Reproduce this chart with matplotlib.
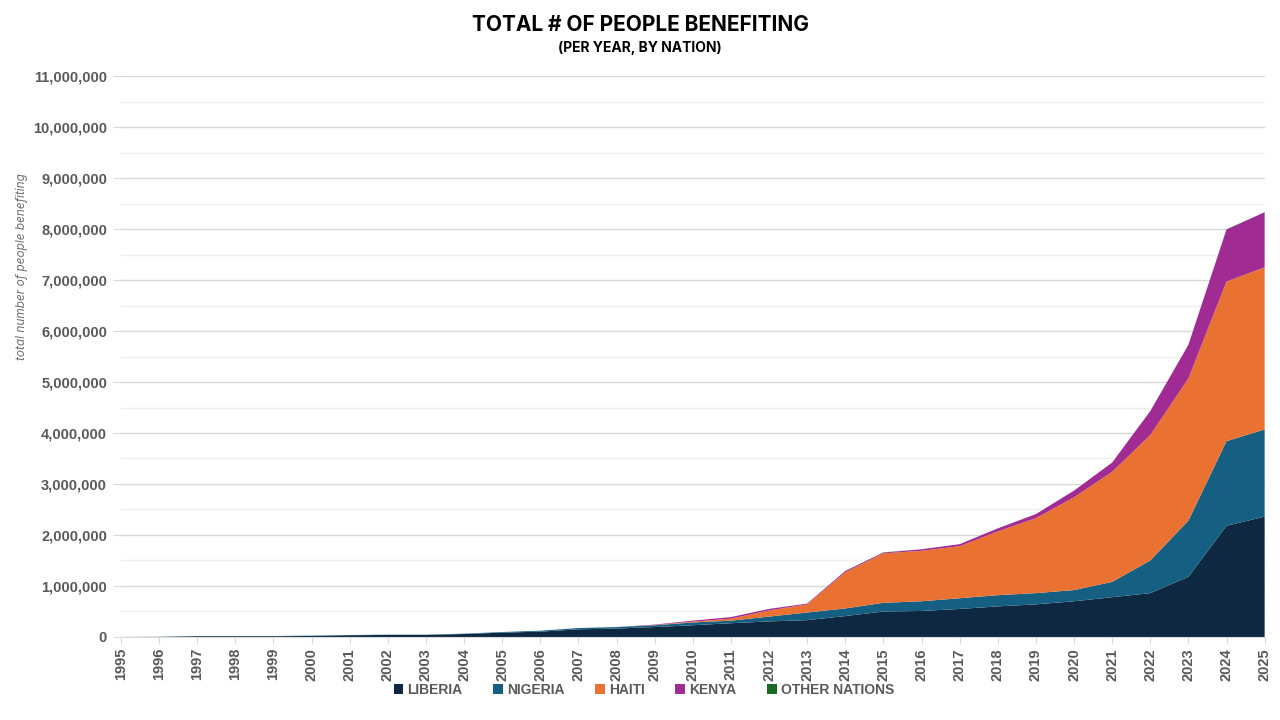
import matplotlib.pyplot as plt
import matplotlib.ticker as mticker
import numpy as np

years = list(range(1995, 2026))

liberia = [0, 2000, 15000, 15000, 15000, 20000, 35000, 40000, 40000, 58000,
           85000, 105000, 150000, 165000, 195000, 230000, 270000, 305000, 330000, 410000,
           500000, 510000, 550000, 600000, 640000, 700000, 780000, 860000, 1180000, 2180000,
           2360000]
nigeria = [0, 1000, 5000, 5000, 5000, 6000, 4000, 5000, 5000, 7000,
           12000, 18000, 25000, 30000, 35000, 55000, 50000, 95000, 150000, 150000,
           170000, 190000, 210000, 220000, 220000, 220000, 300000, 640000, 1100000, 1660000,
           1710000]
haiti = [0, 0, 0, 0, 0, 0, 0, 0, 0, 0,
         0, 0, 0, 0, 5000, 15000, 40000, 120000, 160000, 710000,
         970000, 990000, 1020000, 1250000, 1470000, 1820000, 2160000, 2460000, 2790000, 3130000,
         3180000]
kenya = [0, 0, 0, 0, 0, 0, 0, 0, 0, 0,
         0, 0, 0, 0, 8000, 20000, 30000, 30000, 15000, 25000,
         15000, 30000, 40000, 60000, 80000, 130000, 180000, 470000, 660000, 1020000,
         1080000]
other = [0, 0, 0, 0, 0, 0, 0, 0, 0, 0,
         0, 0, 0, 0, 0, 0, 0, 0, 0, 0,
         5000, 0, 0, 0, 0, 0, 0, 0, 0, 5000,
         0]

labels = ["LIBERIA", "NIGERIA", "HAITI", "KENYA", "OTHER NATIONS"]
colors = ["#0E2841", "#156082", "#E97132", "#A02B93", "#196B24"]

fig = plt.figure(figsize=(12.8, 7.2), dpi=100)
ax = fig.add_axes([0.0945, 0.1153, 0.8935, 0.7791])

ax.stackplot(years, liberia, nigeria, haiti, kenya, other,
             colors=colors, labels=labels, lw=0)

ax.set_xlim(1995, 2025)
ax.set_ylim(0, 11000000)
ax.yaxis.set_major_locator(mticker.MultipleLocator(1000000))
ax.yaxis.set_minor_locator(mticker.MultipleLocator(500000))
ax.yaxis.set_major_formatter(mticker.FuncFormatter(lambda v, p: "{:,.0f}".format(v)))
ax.set_xticks(years)
ax.set_xticklabels([str(y) for y in years], rotation=90)

ax.grid(which='major', axis='y', color='#d9d9d9', lw=1)
ax.grid(which='minor', axis='y', color='#efefef', lw=1)
ax.set_axisbelow(True)
for s in ['top', 'right', 'left']:
    ax.spines[s].set_visible(False)
ax.spines['bottom'].set_color('#d9d9d9')

for lab in ax.get_yticklabels() + ax.get_xticklabels():
    lab.set_fontfamily('Liberation Sans')
    lab.set_fontweight('bold')
    lab.set_fontsize(10.5)
    lab.set_color('#595959')
ax.tick_params(axis='y', which='major', length=6, color='#d9d9d9', pad=4)
ax.tick_params(axis='y', which='minor', length=0)
ax.tick_params(axis='x', length=5, color='#d9d9d9', pad=3)

fig.text(0.5, 0.965, "TOTAL # OF PEOPLE BENEFITING", ha='center', va='center',
         fontsize=15, fontweight='bold', family='Inter', color='black')
fig.text(0.5, 0.933, "(PER YEAR, BY NATION)", ha='center', va='center',
         fontsize=10, fontweight='bold', family='Inter', color='black')
fig.text(0.017, 0.63, "total number of people benefiting", rotation=90,
         ha='center', va='center', fontsize=8.5, style='italic',
         family='Inter', color='#6f6f6f')

handles, labs = ax.get_legend_handles_labels()
leg = fig.legend(handles, labs, loc='center', bbox_to_anchor=(0.503, 0.042),
                 ncol=5, frameon=False, handlelength=0.7, handleheight=0.7,
                 handletextpad=0.3, columnspacing=2.2,
                 prop=dict(family='Liberation Sans', weight='bold', size=10))
for t in leg.get_texts():
    t.set_color('#595959')

fig.savefig("out.png", dpi=100)
